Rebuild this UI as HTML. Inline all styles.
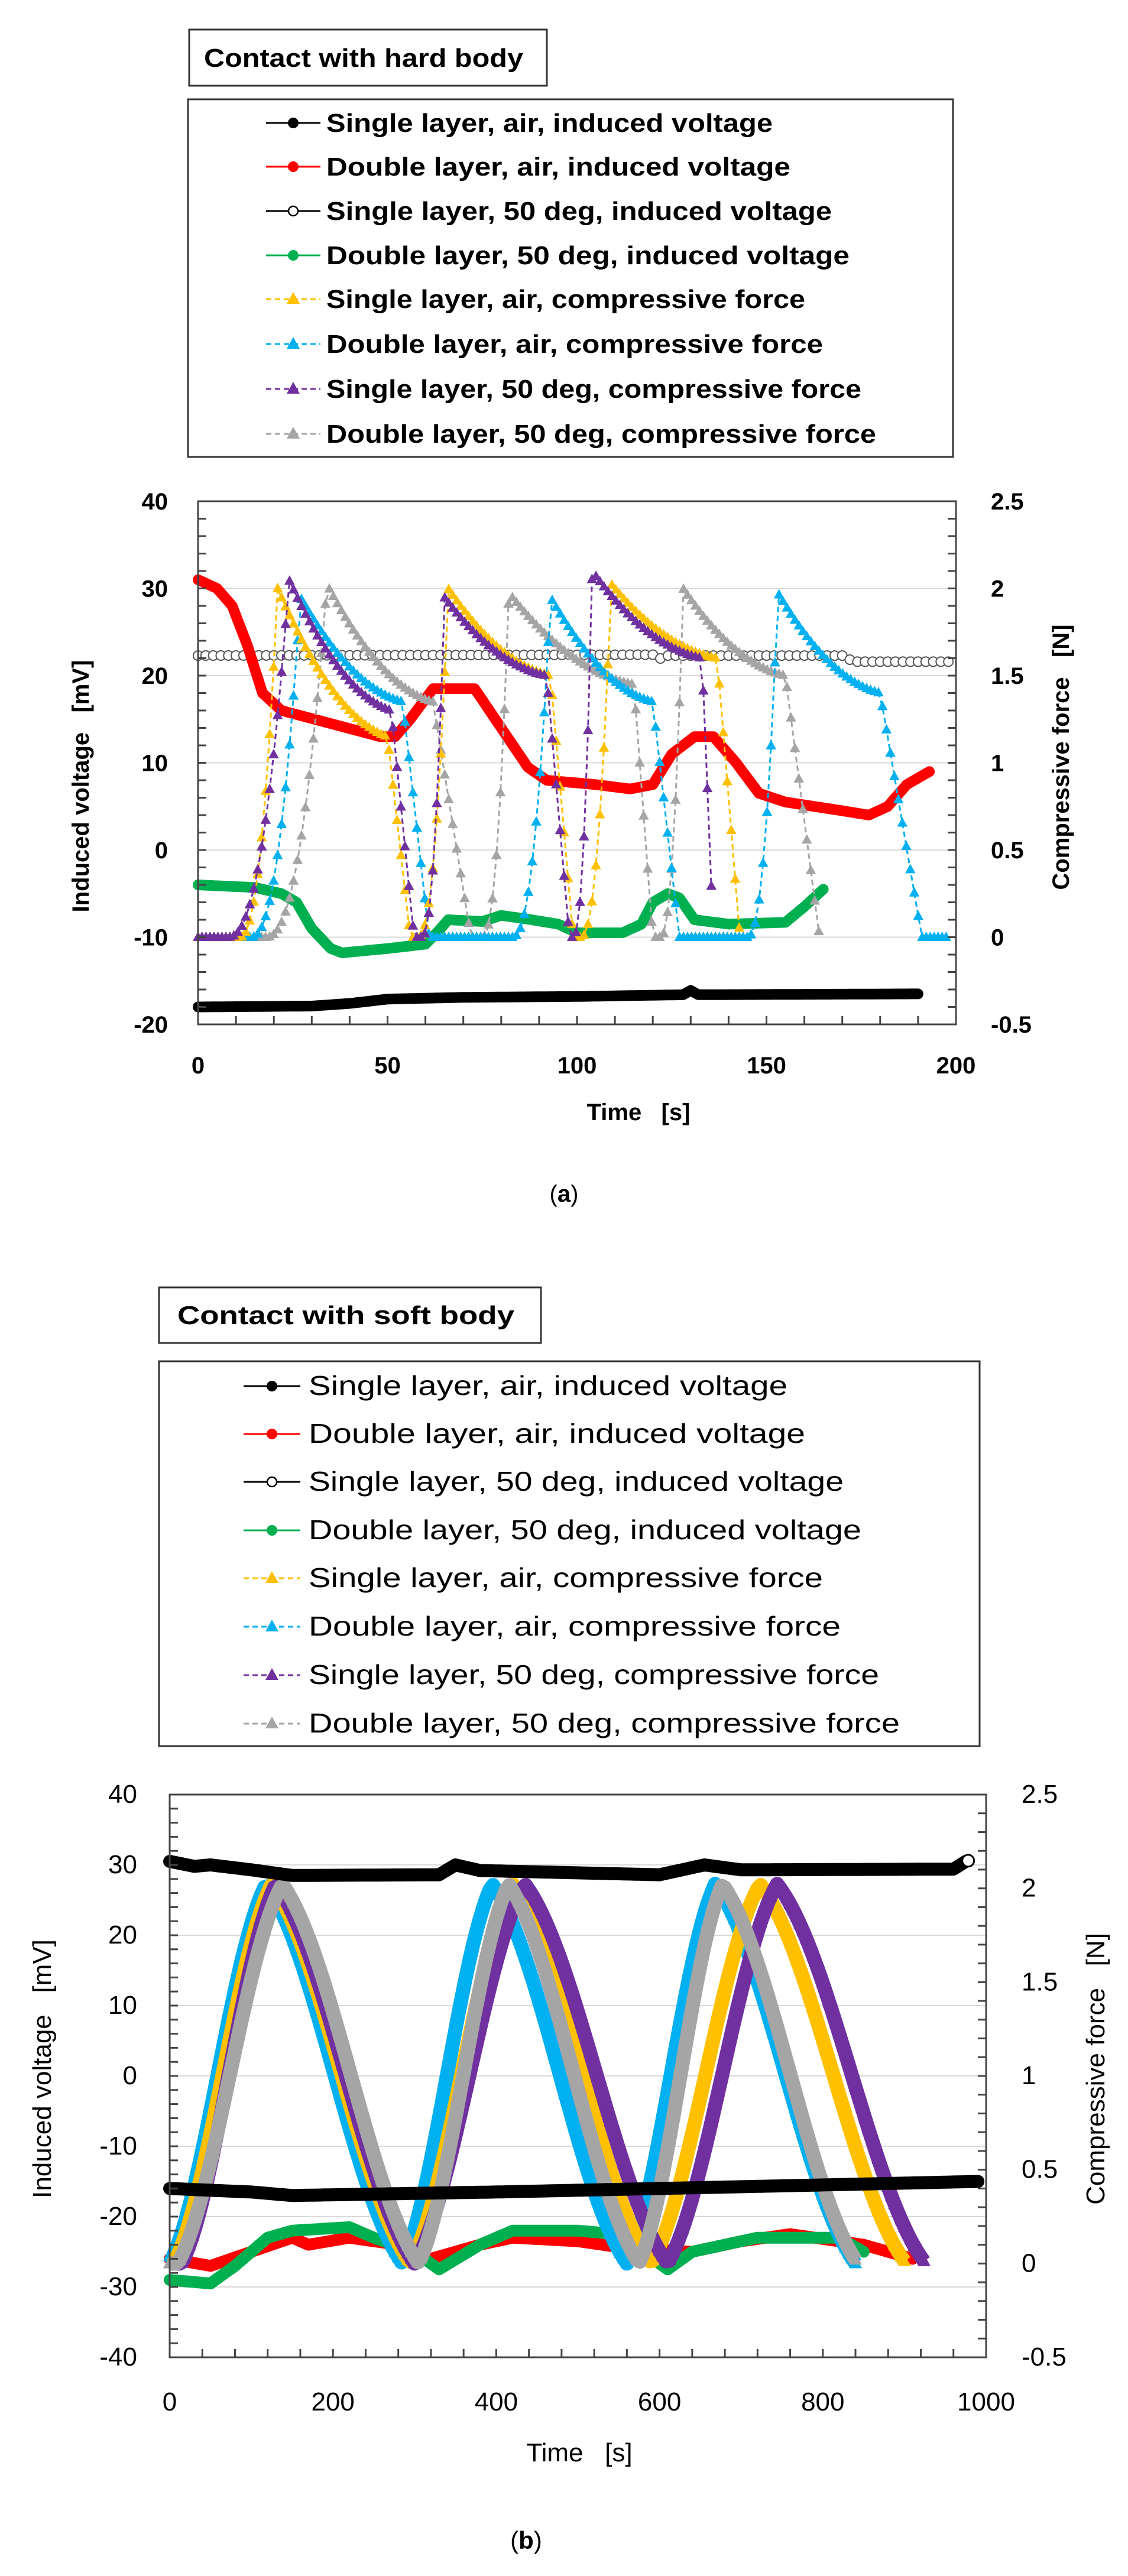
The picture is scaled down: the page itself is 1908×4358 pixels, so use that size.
<!DOCTYPE html>
<html><head><meta charset="utf-8">
<style>
html,body{margin:0;padding:0;background:#fff;}
svg{display:block;}
text{font-family:"Liberation Sans",sans-serif;}
</style></head>
<body>
<svg id="s" xmlns="http://www.w3.org/2000/svg" width="1908" height="4358" viewBox="0 0 1908 4358">
<rect width="1908" height="4358" fill="#fff"/>
<!-- HARD -->
<rect x="320" y="50" width="605" height="95" fill="#fff" stroke="#333" stroke-width="3"/>
<text x="345" y="113" font-size="44" font-weight="bold" textLength="540" lengthAdjust="spacingAndGlyphs">Contact with hard body</text>
<rect x="318" y="168" width="1294" height="605" fill="#fff" stroke="#333" stroke-width="3"/>
<g id="leg1"></g>
<g id="c1"></g>
<text x="1080" y="1895" font-size="40" font-weight="bold" text-anchor="middle" xml:space="preserve">Time   [s]</text>
<text x="954" y="2033" font-size="40" font-family="Liberation Serif" text-anchor="middle">(<tspan font-weight="bold">a</tspan>)</text>
<text transform="translate(150,1330) rotate(-90)" font-size="40" font-weight="bold" text-anchor="middle" xml:space="preserve">Induced voltage   [mV]</text>
<text transform="translate(1808,1281) rotate(-90)" font-size="40" font-weight="bold" text-anchor="middle" xml:space="preserve">Compressive force   [N]</text>
<!-- SOFT -->
<rect x="269" y="2178" width="646" height="94" fill="#fff" stroke="#333" stroke-width="3"/>
<text x="300" y="2240" font-size="44" font-weight="bold" textLength="570" lengthAdjust="spacingAndGlyphs">Contact with soft body</text>
<rect x="269" y="2303" width="1388" height="651" fill="#fff" stroke="#333" stroke-width="3"/>
<g id="leg2"></g>
<g id="c2"></g>
<text x="980" y="4164" font-size="44" text-anchor="middle" xml:space="preserve">Time   [s]</text>
<text x="890" y="4312" font-size="42" font-family="Liberation Serif" text-anchor="middle">(<tspan font-weight="bold">b</tspan>)</text>
<text transform="translate(86,3500) rotate(-90)" font-size="44" text-anchor="middle" xml:space="preserve">Induced voltage   [mV]</text>
<text transform="translate(1868,3500) rotate(-90)" font-size="44" text-anchor="middle" xml:space="preserve">Compressive force   [N]</text>
</svg>
<script>
var NS="http://www.w3.org/2000/svg";
function el(p,n,a,t){var e=document.createElementNS(NS,n);for(var k in a)e.setAttribute(k,a[k]);if(t!==undefined)e.textContent=t;p.appendChild(e);return e;}
var C={black:"#000",red:"#ff0000",green:"#00b050",yel:"#ffc000",blue:"#00b0f0",pur:"#7030a0",gray:"#a5a5a5"};
var names=["Single layer, air, induced voltage","Double layer, air, induced voltage","Single layer, 50 deg, induced voltage","Double layer, 50 deg, induced voltage","Single layer, air, compressive force","Double layer, air, compressive force","Single layer, 50 deg, compressive force","Double layer, 50 deg, compressive force"];
var styles=[["#000","dot"],["#ff0000","dot"],["#000","open"],["#00b050","dot"],["#ffc000","tri"],["#00b0f0","tri"],["#7030a0","tri"],["#a5a5a5","tri"]];
function tri(g,x,y,s,c){el(g,"polygon",{points:(x)+","+(y-s*0.6)+" "+(x-s*0.55)+","+(y+s*0.4)+" "+(x+s*0.55)+","+(y+s*0.4),fill:c});}
function legend(id,x0,x1,tx,ys,fs,bold,tl){
 var g=document.getElementById(id);
 for(var i=0;i<8;i++){var y=ys[i],st=styles[i];var mx=(x0+x1)/2;
  if(st[1]=="tri"){el(g,"line",{x1:x0,y1:y,x2:x1,y2:y,stroke:st[0],"stroke-width":3,"stroke-dasharray":"9,6"});tri(g,mx,y,20,st[0]);}
  else{el(g,"line",{x1:x0,y1:y,x2:x1,y2:y,stroke:st[0],"stroke-width":3});
   if(st[1]=="open")el(g,"circle",{cx:mx,cy:y,r:8,fill:"#fff",stroke:"#000","stroke-width":2.5});else el(g,"circle",{cx:mx,cy:y,r:9,fill:st[0]});}
  var a={x:tx,y:y+15,"font-size":fs,textLength:tl[i],lengthAdjust:"spacingAndGlyphs"};if(bold)a["font-weight"]="bold";
  el(g,"text",a,names[i]);}
}
legend("leg1",450,542,552,[208,282,357,432,506,582,658,734],44,true,[755,785,855,885,810,840,905,930]);
legend("leg2",412,508,522,[2345,2426,2507,2589,2670,2752,2834,2916],46,false,[810,840,905,935,870,900,965,1000]);

function interp(pts,t){if(t<=pts[0][0])return pts[0][1];for(var i=1;i<pts.length;i++){if(t<=pts[i][0]){var a=pts[i-1],b=pts[i];return a[1]+(b[1]-a[1])*(t-a[0])/(b[0]-a[0]);}}return pts[pts.length-1][1];}
function pulses(ps,base,t){
 for(var i=0;i<ps.length;i++){var p=ps[i];
  if(t>=p[0]&&t<=p[1]){var u=(t-p[0])/(p[1]-p[0]);return base+(p[2]-base)*Math.pow(u,2.3);}
  if(t>p[1]&&t<=p[3]){var w=(t-p[1])/(p[3]-p[1]);return p[4]+(p[2]-p[4])*(0.75*(1-w)*(1-w)+0.25*(1-w));}
  if(t>p[3]&&t<=p[5]){var w=(t-p[3])/(p[5]-p[3]);return p[4]+(base-p[4])*w;}
 }return base;}

function chart(id,o){
 var g=document.getElementById(id);
 var X=function(t){return o.x0+(t-o.t0)/(o.t1-o.t0)*(o.x1-o.x0);};
 var Y=function(v){return o.y1-(v-o.v0)/(o.v1-o.v0)*(o.y1-o.y0);};
 for(var v=o.v0+o.vs;v<o.v1;v+=o.vs)el(g,"line",{x1:o.x0,y1:Y(v),x2:o.x1,y2:Y(v),stroke:"#d9d9d9","stroke-width":2});
 o.series.forEach(function(s){
  var pts=[];for(var t=s.a;t<=s.b+1e-9;t+=s.dt)pts.push([X(t),Y(s.f(t))]);
  var d=pts.map(function(p,i){return (i?"L":"M")+p[0].toFixed(1)+","+p[1].toFixed(1);}).join("");
  if(s.type=="tri"){
   if(s.w)el(g,"path",{d:d,fill:"none",stroke:s.c,"stroke-width":s.w,"stroke-linejoin":"round"});
   else el(g,"path",{d:d,fill:"none",stroke:s.c,"stroke-width":3,"stroke-dasharray":"9,6"});
   pts.forEach(function(p){tri(g,p[0],p[1],s.m,s.c);});
  }else if(s.type=="open"){
   pts.forEach(function(p){el(g,"circle",{cx:p[0],cy:p[1],r:s.m,fill:"#fff",stroke:"#555","stroke-width":2});});
  }else{
   el(g,"path",{d:d,fill:"none",stroke:s.c,"stroke-width":s.m*2,"stroke-linecap":"round","stroke-linejoin":"round"});
  }
 });
 if(o.extra)o.extra(g,X,Y);
 el(g,"rect",{x:o.x0,y:o.y0,width:o.x1-o.x0,height:o.y1-o.y0,fill:"none",stroke:"#444","stroke-width":3});
 for(var v=o.v0;v<=o.v1+1e-9;v+=o.vm)el(g,"line",{x1:o.x0,y1:Y(v),x2:o.x0+14,y2:Y(v),stroke:"#444","stroke-width":3});
 for(var v=o.v0;v<=o.v1+1e-9;v+=(o.v1-o.v0)/o.rn)el(g,"line",{x1:o.x1,y1:Y(v),x2:o.x1-14,y2:Y(v),stroke:"#444","stroke-width":3});
 for(var t=o.t0;t<=o.t1+1e-9;t+=o.tm)el(g,"line",{x1:X(t),y1:o.y1,x2:X(t),y2:o.y1-14,stroke:"#444","stroke-width":3});
 var fw=o.bold?"bold":"normal";
 for(var v=o.v0;v<=o.v1+1e-9;v+=o.vs)el(g,"text",{x:o.lx,y:Y(v)+14,"font-size":o.fs,"font-weight":fw,"text-anchor":"end"},Math.round(v));
 var rs=(o.v1-o.v0)/(o.rl.length-1);
 for(var i=0;i<o.rl.length;i++){var v=o.v0+i*rs;el(g,"text",{x:o.rx,y:Y(v)+14,"font-size":o.fs,"font-weight":fw},o.rl[i]);}
 for(var t=o.t0;t<=o.t1+1e-9;t+=o.ts)el(g,"text",{x:X(t),y:o.xy,"font-size":o.fs,"font-weight":fw,"text-anchor":"middle"},Math.round(t));
}

var B=-10;
chart("c1",{x0:335,x1:1617,y0:848,y1:1733,t0:0,t1:200,v0:-20,v1:40,vs:10,vm:2,rn:30,tm:10,ts:50,lx:284,rx:1676,xy:1816,fs:40,bold:true,
 rl:["-0.5","0","0.5","1","1.5","2","2.5"],
 series:[
  {type:"open",c:"#fff",m:8,a:0,b:198,dt:2,f:function(t){return interp([[0,22.3],[120,22.4],[121,21.8],[124,22.3],[170,22.3],[173,21.6],[198,21.6]],t);}},
  {type:"dot",c:C.black,m:9,a:0,b:190,dt:1,f:function(t){return interp([[0,-18],[30,-17.9],[40,-17.6],[50,-17.1],[70,-16.9],[100,-16.8],[128,-16.6],[130,-16.1],[132,-16.6],[190,-16.5]],t);}},
  {type:"dot",c:C.red,m:9,a:0,b:193,dt:1,f:function(t){return interp([[0,31],[5,30],[9,28],[13,23.5],[17,18],[22,16],[35,14.5],[48,13],[52,13],[56,15],[62,18.5],[73,18.5],[80,14],[87,9.5],[92,8],[105,7.5],[114,7],[120,7.5],[125,11],[131,13],[136,13],[142,10],[148,6.5],[155,5.5],[170,4.5],[177,4],[182,5],[187,7.5],[193,9]],t);}},
  {type:"dot",c:C.green,m:9,a:0,b:165,dt:1,f:function(t){return interp([[0,-4],[15,-4.3],[22,-5],[26,-6],[30,-9],[35,-11.3],[38,-11.8],[50,-11.3],[60,-10.8],[63,-9.5],[66,-8],[75,-8.2],[80,-7.5],[88,-8],[95,-8.5],[100,-9.5],[112,-9.5],[117,-8.5],[120,-6],[124,-5],[127,-5.5],[131,-8],[140,-8.5],[155,-8.3],[160,-6.5],[165,-4.5]],t);}},
  {type:"tri",c:C.gray,m:16,a:0,b:164,dt:1.05,f:function(t){return pulses([[18,34,30.5,62,17,72],[75,82,29.5,115,19,120],[122,128,30,155,20,164]],B,t);}},
  {type:"tri",c:C.blue,m:16,a:0,b:198,dt:1.05,f:function(t){return pulses([[14,27,29,54,17,61],[83,93,29,120,17,127],[145,153,29.5,180,18,191]],B,t);}},
  {type:"tri",c:C.yel,m:16,a:0,b:143,dt:1.05,f:function(t){return pulses([[11,21,30,50,13,56],[58,66,30,93,20,99],[101,109,30.5,137,22,143]],B,t);}},
  {type:"tri",c:C.pur,m:16,a:0,b:136,dt:1.05,f:function(t){return pulses([[8,24,31,51,16,57],[59,65,29,92,20,98],[99,104,32,133,22,136]],B,t);}}
 ]});

var S0=-26.67,PK=27.3;
function soft(list,t){
 if(t<=list[0][0])return S0;
 for(var i=1;i<list.length;i++){if(t<=list[i][0]){var a=list[i-1],b=list[i],u=(t-a[0])/(b[0]-a[0]);
   u=Math.max(0,Math.min(1,u));var up=b[1];var w=up?u:1-u;
   var f=0.5*w+0.5*(1-Math.cos(Math.PI*w))/2;
   return S0+(PK-S0)*f;}}
 return S0;}
chart("c2",{x0:287,x1:1668,y0:3036,y1:3988,t0:0,t1:1000,v0:-40,v1:40,vs:10,vm:2,rn:30,tm:40,ts:200,lx:232,rx:1728,xy:4078,fs:44,bold:false,
 rl:["-0.5","0","0.5","1","1.5","2","2.5"],
 series:[
  {type:"dot",c:C.red,m:10,a:0,b:910,dt:5,f:function(t){return interp([[0,-26],[50,-27],[100,-25],[150,-23],[170,-24],[220,-23],[280,-24],[320,-26],[380,-24],[420,-23],[500,-23.5],[560,-24.5],[640,-25],[700,-23.5],[760,-22.5],[850,-24],[910,-26]],t);}},
  {type:"dot",c:C.green,m:10,a:0,b:850,dt:5,f:function(t){return interp([[0,-29],[50,-29.5],[80,-27],[120,-23],[150,-22],[220,-21.5],[250,-23],[300,-25],[330,-27.5],[380,-24],[420,-22],[500,-22],[550,-22.5],[580,-25],[610,-27.5],[640,-25],[720,-23],[820,-23],[850,-25]],t);}},
  {type:"tri",c:C.blue,m:20,w:24,a:0,b:840,dt:4,f:function(t){return soft([[0,0],[118,1],[285,0],[395,1],[560,0],[668,1],[840,0]],t);}},
  {type:"tri",c:C.yel,m:20,w:24,a:0,b:902,dt:4,f:function(t){return soft([[5,0],[125,1],[295,0],[420,1],[590,0],[723,1],[902,0]],t);}},
  {type:"tri",c:C.pur,m:20,w:24,a:0,b:926,dt:4,f:function(t){return soft([[15,0],[130,1],[300,0],[435,1],[610,0],[744,1],[926,0]],t);}},
  {type:"tri",c:C.gray,m:20,w:24,a:0,b:843,dt:4,f:function(t){return soft([[10,0],[138,1],[305,0],[415,1],[575,0],[677,1],[843,0]],t);}},
  {type:"dot",c:C.black,m:11,a:0,b:990,dt:5,f:function(t){return interp([[0,-16],[100,-16.5],[150,-17],[400,-16.5],[600,-16],[800,-15.5],[990,-15]],t);}},
  {type:"dot",c:C.black,m:11,a:0,b:975,dt:5,f:function(t){return interp([[0,30.5],[30,29.8],[50,30],[100,29.3],[150,28.5],[330,28.6],[350,30],[380,29.2],[600,28.6],[655,30],[700,29.3],[960,29.4],[975,30.5]],t);}}
 ],
 extra:function(g,X,Y){el(g,"circle",{cx:X(978),cy:Y(30.6),r:10,fill:"#fff",stroke:"#000","stroke-width":3});}
});
</script>
</body></html>
